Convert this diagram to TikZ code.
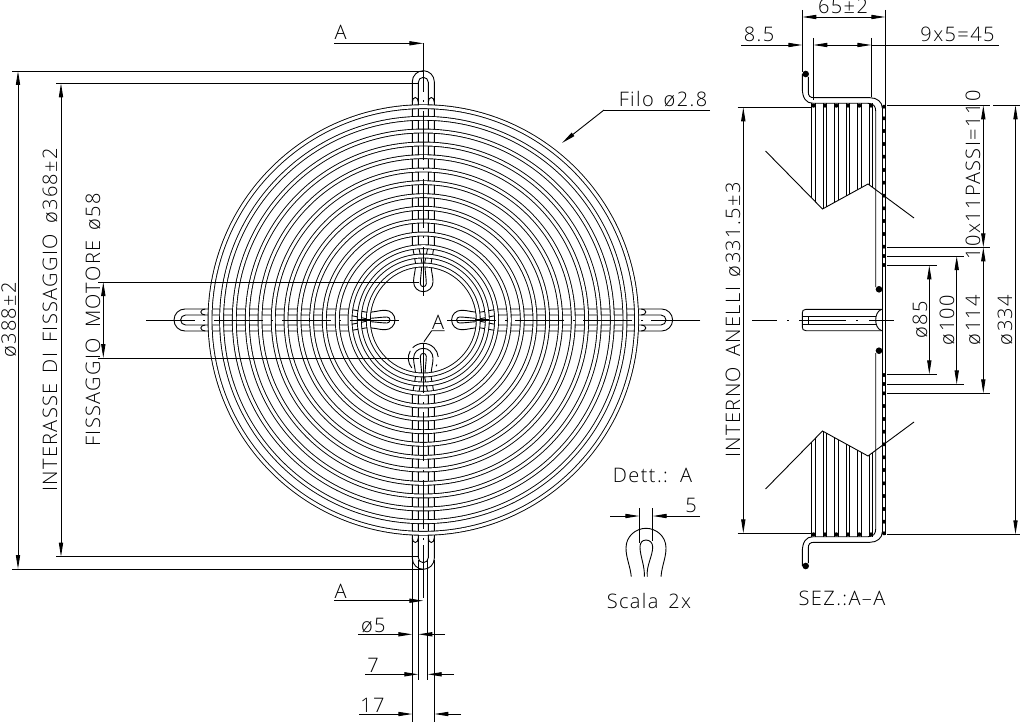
\documentclass[tikz,border=0pt]{standalone}
\usepackage{fontspec}
\usepackage{amsmath}
\usetikzlibrary{arrows.meta,calc}
\newfontfamily\drawfont{Open Sans}[UprightFont=* Light,LetterSpace=7,WordSpace=1.5]
\tikzset{
	ln/.style={line width=0.9pt},
	ringline/.style={line width=0.9pt,double=white,double distance=3pt},
	cline/.style={line width=0.9pt,dash pattern=on 49pt off 8pt on 2pt off 9pt},
	txt/.style={anchor=base,inner sep=0pt,font=\drawfont\fontsize{20}{20}\selectfont},
	rtxt/.style={txt,rotate=90},
	>={Triangle[length=14pt,width=4.2pt]}
}
\begin{document}
\begin{tikzpicture}[x=1pt,y=-1pt,ln]
		\useasboundingbox (0,0) rectangle (1022,722);
		\foreach \a in {0,90,180,270} {
		\begin{scope}[shift={(423.3,320)},rotate=\a]
			\draw (-11,-238.3) arc (180:360:11) -- (11,-75) -- (8,-58) .. controls (7,-50) and (9.7,-46) .. (9.7,-38) arc (0:180:9.7) .. controls (-9.7,-46) and (-7,-50) .. (-8,-58) -- (-11,-75) -- cycle;
			\draw (-5,-237.7) arc (180:360:5) -- (5,-75) -- (1.5,-58) .. controls (1.5,-50) and (3,-42) .. (3,-36.3) arc (0:180:3) .. controls (-3,-42) and (-1.5,-50) .. (-1.5,-58) -- (-5,-75) -- cycle;
			\draw (-11,-218) arc (180:360:3 and 4.5);
			\draw (5,-218) arc (180:360:3 and 4.5);
		\end{scope}
		}
		\foreach \r in {213.3,201.7,189,176,163.3,150,137.3,124.3,111.7,99,86,73.3,64,55}
			\draw[ringline] (423.3,320) circle (\r);
		\foreach \a in {0,90,180,270} {
		\begin{scope}[shift={(423.3,320)},rotate=\a]
			\draw[cline] (0,-277) -- (0,-23);
			\draw[line width=1.2pt] (0,-66) -- (0,-52);
		\end{scope}
		}
		\draw (423.3,358.3) ++(-135:15) arc (-135:-5:15);
		\draw (423.3,358.3) ++(-150:15) arc (-150:-220:15);
		\draw (423.3,358.3) ++(25:15) arc (25:32:15);
		\draw (424,341.7) -- (431.7,330.7) -- (444.7,330.7);
		\node[txt] (hubA) at (438,329) {A};

		\draw (12,71) -- (423.3,71);
		\draw (12,569) -- (423.3,569);
		\draw (56,83.3) -- (419,83.3);
		\draw (56,556.7) -- (419,556.7);
		\draw (98,282) -- (419,282);
		\draw (98,358) -- (419,358);
		\draw[<->] (18,71) -- (18,569);
		\draw[<->] (61,83.3) -- (61,556.7);
		\draw[<->] (103.3,282) -- (103.3,358);
		\node[rtxt] (dimext) at (16,320) {ø388±2};
		\node[rtxt] (dimfix) at (57,320) {INTERASSE DI FISSAGGIO ø368±2};
		\node[rtxt] (dimmot) at (100,320) {FISSAGGIO MOTORE ø58};

		\draw[->] (334,43.3) -- (423.3,43.3);
		\draw[->] (334,600.7) -- (423.3,600.7);
		\draw (423.3,545) -- (423.3,598);
		\node[txt] (secA) at (340.5,40) {A};
		\node[txt] (secB) at (340.5,598) {A};

		\draw (710,110) -- (604,110);
		\draw[->] (604,110) -- (562,143);
		\node[txt] (filo) at (663,107) {Filo ø2.8};

		\draw (412.3,560) -- (412.3,722);
		\draw (434.3,560) -- (434.3,722);
		\draw[->] (358,634.3) -- (412.3,634.3);
		\draw[->] (445,634.3) -- (418.3,634.3);
		\draw[->] (365,674.3) -- (418.3,674.3);
		\draw[->] (454,674.3) -- (427.7,674.3);
		\draw[->] (359,714) -- (412.3,714);
		\draw[->] (461,714) -- (434.3,714);
		\draw (418.3,560) -- (418.3,680);
		\draw (427.7,560) -- (427.7,680);
		\node[txt] (wireb) at (373.3,632) {ø5};
		\node[txt] (wirec) at (373,672) {7};
		\node[txt] (wired) at (372.5,712) {17};

		\node[txt] (dett) at (652.5,482) {Dett.: A};
		\node[txt] (cinque) at (691,512) {5};
		\node[txt] (scala) at (649,608) {Scala 2x};
		\draw (639.3,508) -- (639.3,542.7);
		\draw (652.7,508) -- (652.7,541);
		\draw[->] (610,516) -- (639.3,516);
		\draw[->] (700,516) -- (652.7,516);
		\draw (631.3,576.7) .. controls (630,565) and (626,558) .. (626,548) .. controls (626,536) and (636,528.3) .. (646,528.3) .. controls (656,528.3) and (666,536) .. (666,548) .. controls (666,558) and (662,565) .. (661,576.7);
		\draw (647.3,576.7) .. controls (646,566) and (652.7,556) .. (652.7,547) .. controls (652.7,543) and (650,540) .. (646,540) .. controls (642,540) and (640,543) .. (640,547) .. controls (640,556) and (645,566) .. (644.3,576.7);

		\foreach \s in {1,-1} {
		\begin{scope}[shift={(0,320)},yscale=\s]
			\foreach \xa/\ya/\xb/\yb in {811.7/-122/815.3/-118.3,823/-111.3/826.7/-113.3,834.3/-117.5/838.3/-119.7,846/-123.9/849.7/-126,857.3/-130.1/861.3/-132.3,869/-135.3/872.7/-132.5} {
				\draw (\xa,-216.7) -- (\xa,\ya);
				\draw (\xb,-216.7) -- (\xb,\yb);
			}
			\foreach \xa in {813.5,825,836.3,848,859.3,871}
				\fill (\xa,-214.3) circle (2);
			\foreach \r in {213.3,201.7,189,176,163.3,150,137.3,124.3,111.7,99,86,73.3,64,55}
				\fill (884,-\r) circle (2);
			\draw (765.5,-169) -- (822.5,-111) -- (868,-136) -- (914,-102);
			\draw (802.3,-246) -- (802.3,-232) .. controls (802.3,-222) and (806,-216.7) .. (813,-216.7) -- (868,-216.7) .. controls (873,-216.7) and (875.7,-214) .. (875.7,-209) -- (875.7,-33);
			\draw (808.3,-243) -- (808.3,-228) .. controls (808.3,-224) and (810,-222.3) .. (814,-222.3) -- (870,-222.3) .. controls (877,-222.3) and (882.3,-218) .. (882.3,-212);
			\fill (805.7,-246) circle (3.3);
			\fill (879,-30.7) circle (3.3);
			\draw (881.7,-10.7) -- (806,-10.7) .. controls (803,-10.7) and (802.3,-9) .. (802.3,-7) -- (802.3,0);
			\draw (881.7,-10.7) .. controls (877,-9) and (875.7,-4) .. (875.7,0);
			\draw (803,-4) -- (876,-4);
			\draw (808.3,-4) -- (808.3,0);
		\end{scope}
		}
		\draw (882.3,108) -- (882.3,532);
		\draw (885.7,105) -- (885.7,535);
		\draw[line width=0.9pt,dash pattern=on 25pt off 10pt on 2pt off 10pt on 47pt off 10pt on 2pt off 11pt] (752,320.3) -- (896,320.3);

		\draw (802.3,10) -- (802.3,72);
		\draw (885.3,10) -- (885.3,105);
		\draw (813.3,38) -- (813.3,100);
		\draw (871.3,38) -- (871.3,97);
		\draw[<->] (802.3,17) -- (885.3,17);
		\draw[->] (741,45) -- (802.3,45);
		\draw[<->] (813.3,45) -- (871.3,45);
		\draw (871.3,45) -- (999,45);
		\node[txt] (dimh) at (843,14) {65±2};
		\node[txt] (dimi) at (759,42) {8.5};
		\node[txt] (dimp) at (957.5,42) {9x5=45};

		\draw (737.5,107.3) -- (811,107.3);
		\draw (737.5,533.3) -- (811,533.3);
		\draw[<->] (743.3,107.3) -- (743.3,533.3);
		\node[rtxt] (dimint) at (740,320) {INTERNO ANELLI ø331.5±3};

		\draw (887,105.3) -- (990,105.3);
		\draw (993,105.3) -- (1020,105.3);
		\draw (887,534.3) -- (1020,534.3);
		\draw (887,247.3) -- (990,247.3);
		\draw (887,393.3) -- (990,393.3);
		\draw (887,256) -- (964,256);
		\draw (887,384.3) -- (964,384.3);
		\draw (887,265.3) -- (936.7,265.3);
		\draw (887,374.3) -- (936.7,374.3);
		\draw[<->] (1015.5,105.3) -- (1015.5,534.3);
		\draw[<->] (983.3,105.3) -- (983.3,247.3);
		\draw[<->] (983.3,247.3) -- (983.3,393.3);
		\draw[<->] (956.7,256) -- (956.7,384.3);
		\draw[<->] (929.3,265.3) -- (929.3,374.3);
		\node[rtxt] (dimpassi) at (980,175) {10x11PASSI=110};
		\node[rtxt] (dima) at (927,320) {ø85};
		\node[rtxt] (dimb) at (954,320) {ø100};
		\node[rtxt] (dimc) at (980,320) {ø114};
		\node[rtxt] (dimd) at (1012,320) {ø334};
		\node[txt] (sez) at (842,605) {SEZ.:A–A};
		\end{tikzpicture}
\end{document}
